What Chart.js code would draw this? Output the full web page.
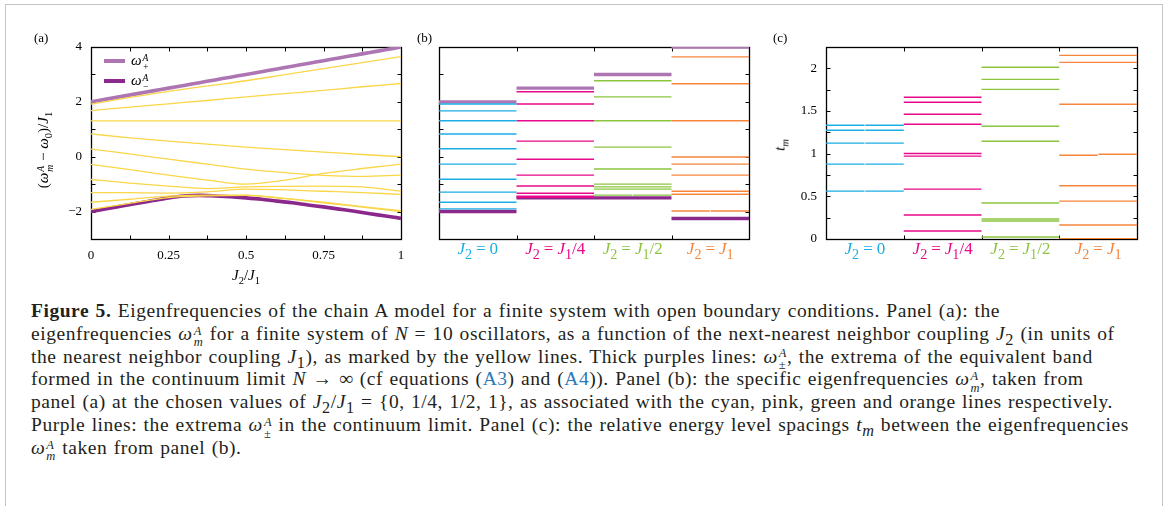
<!DOCTYPE html>
<html>
<head>
<meta charset="utf-8">
<script src="https://cdn.jsdelivr.net/npm/chart.js@4.4.1/dist/chart.umd.min.js"></script>
<style>
  body { margin: 0; background: #fff; width: 1165px; height: 506px; overflow: hidden; position: relative;
         font-family: "Liberation Serif", serif; color: #231f20; }
  .frame { position: absolute; left: 5px; top: 4px; width: 1156px; height: 600px;
           border: 1px solid #c4c4c4; border-bottom: none; }
  canvas { position: absolute; top: 0; }
  .txt { position: absolute; white-space: nowrap; }
  .plabel { font-size: 13px; color: #000; }
  /* stacked superscript / subscript */
  .ss { display: inline-flex; flex-direction: column; vertical-align: 0.42em; font-size: 0.64em;
        line-height: 0.95; margin-left: 1px; font-style: italic; }
  .ss span { display: block; }
  .rot { transform: translate(-50%, -50%) rotate(-90deg); }
  .ctr { transform: translate(-50%, -50%); }
  .swatch { position: absolute; width: 21px; height: 4px; }
  .caption { position: absolute; left: 31px; top: 300px; font-size: 19.5px; letter-spacing: 0.55px; word-spacing: 1px; }
  .caption div { height: 22.8px; line-height: 22.8px; white-space: nowrap; }
  .ref { color: #2a7ab8; }
  .glabel { font-size: 17px; }
  .eq { margin: 0 4px; font-style: normal; }
</style>
</head>
<body>
<div class="frame"></div>

<canvas id="chartA" width="420" height="300" style="left:0px"></canvas>
<canvas id="chartB" width="370" height="300" style="left:400px"></canvas>
<canvas id="chartC" width="390" height="300" style="left:770px"></canvas>

<div class="txt plabel" style="left:34px; top:30px">(a)</div>
<div class="txt plabel" style="left:417px; top:30px">(b)</div>
<div class="txt plabel" style="left:773px; top:30px">(c)</div>

<div class="txt rot" style="left:45px; top:150px; font-size:15px; color:#000">(<i>ω</i><span class="ss"><span>A</span><span>m</span></span> − <i>ω</i><sub style="font-size:0.7em">0</sub>)/<i>J</i><sub style="font-size:0.7em">1</sub></div>
<div class="txt ctr" style="left:246px; top:276px; font-size:15px; color:#000"><i>J</i><sub style="font-size:0.7em">2</sub>/<i>J</i><sub style="font-size:0.7em">1</sub></div>
<div class="txt rot" style="left:781px; top:145px; font-size:15px; color:#000"><i>t</i><sub style="font-size:0.7em"><i>m</i></sub></div>

<!-- legend of panel (a) -->
<div class="swatch" style="left:104px; top:59px; background:#ad76b3"></div>
<div class="swatch" style="left:104px; top:79px; background:#8b288c"></div>
<div class="txt" style="left:131px; top:52px; font-size:15px; color:#000"><i>ω</i><span class="ss"><span>A</span><span>+</span></span></div>
<div class="txt" style="left:131px; top:72px; font-size:15px; color:#000"><i>ω</i><span class="ss"><span>A</span><span>−</span></span></div>

<div id="labelsB"></div>
<div id="labelsC"></div>

<div class="caption">
  <div><b>Figure 5.</b> Eigenfrequencies of the chain A model for a finite system with open boundary conditions. Panel (a): the</div>
  <div>eigenfrequencies <i>ω</i><span class="ss"><span>A</span><span>m</span></span> for a finite system of <i>N</i> = 10 oscillators, as a function of the next-nearest neighbor coupling <i>J</i><sub>2</sub> (in units of</div>
  <div>the nearest neighbor coupling <i>J</i><sub>1</sub>), as marked by the yellow lines. Thick purples lines: <i>ω</i><span class="ss"><span>A</span><span>±</span></span>, the extrema of the equivalent band</div>
  <div>formed in the continuum limit <i>N</i> → ∞ (cf equations (<span class="ref">A3</span>) and (<span class="ref">A4</span>)). Panel (b): the specific eigenfrequencies <i>ω</i><span class="ss"><span>A</span><span>m</span></span>, taken from</div>
  <div>panel (a) at the chosen values of <i>J</i><sub>2</sub>/<i>J</i><sub>1</sub> = {0, 1/4, 1/2, 1}, as associated with the cyan, pink, green and orange lines respectively.</div>
  <div>Purple lines: the extrema <i>ω</i><span class="ss"><span>A</span><span>±</span></span> in the continuum limit. Panel (c): the relative energy level spacings <i>t<sub>m</sub></i> between the eigenfrequencies</div>
  <div><i>ω</i><span class="ss"><span>A</span><span>m</span></span> taken from panel (b).</div>
</div>

<script>
// ---- panel (a): eigenfrequencies vs J2/J1 ----
const j2Grid = [0, 0.125, 0.25, 0.375, 0.5, 0.625, 0.75, 0.875, 1];
const mode1 = [1.92, 2.16, 2.38, 2.58, 2.77, 2.99, 3.21, 3.43, 3.65];
const mode2 = [1.68, 1.81, 1.93, 2.05, 2.18, 2.30, 2.42, 2.55, 2.67];
const mode3 = [1.31, 1.31, 1.31, 1.31, 1.31, 1.31, 1.31, 1.31, 1.31];
const mode4 = [0.83, 0.69, 0.57, 0.46, 0.35, 0.26, 0.17, 0.08, 0.00];
const mode5 = [0.28, 0.10, -0.09, -0.27, -0.45, -0.58, -0.68, -0.72, -0.67];
const mode6 = [-0.28, -0.47, -0.67, -0.85, -1.00, -0.85, -0.61, -0.43, -0.27];
const mode7 = [-0.83, -0.96, -1.07, -1.16, -1.10, -1.08, -1.07, -1.10, -1.26];
const mode8 = [-1.31, -1.31, -1.33, -1.28, -1.18, -1.21, -1.26, -1.31, -1.37];
const mode9 = [-1.66, -1.55, -1.44, -1.40, -1.40, -1.52, -1.66, -1.82, -1.97];
const mode10 = [-1.92, -1.70, -1.49, -1.43, -1.41, -1.53, -1.68, -1.84, -2.00];

// band edges in the continuum limit
const j2Fine = [0, 0.05, 0.1, 0.15, 0.2, 0.25, 0.3, 0.35, 0.4, 0.45, 0.5,
                0.55, 0.6, 0.65, 0.7, 0.75, 0.8, 0.85, 0.9, 0.95, 1];
const omegaPlus = [2.0, 2.1, 2.2, 2.3, 2.4, 2.5, 2.6, 2.7, 2.8, 2.9, 3.0,
                   3.1, 3.2, 3.3, 3.4, 3.5, 3.6, 3.7, 3.8, 3.9, 4.0];
const omegaMinus = [-2.0, -1.9, -1.8, -1.7, -1.6, -1.5, -1.43, -1.41, -1.43, -1.46, -1.5,
                    -1.55, -1.62, -1.68, -1.76, -1.83, -1.91, -1.99, -2.08, -2.16, -2.25];

// ---- panel (b): levels at J2 = 0, J1/4, J1/2, J1 ----
const levelsJ0 = [1.92, 1.67, 1.31, 0.83, 0.29, -0.27, -0.82, -1.29, -1.66, -1.90];
const levelsJ14 = [2.37, 1.92, 1.31, 0.57, -0.09, -0.67, -1.07, -1.33, -1.44, -1.48];
const levelsJ12 = [2.77, 2.18, 1.31, 0.35, -0.45, -1.00, -1.10, -1.18];
const levelsJ1 = [3.64, 2.66, 1.31, -0.01, -0.27, -0.67, -1.26, -1.37];
// near-degenerate pairs drawn as left/right half segments
const pairsJ12 = [[-1.40, -1.40]];
const pairsJ1 = [[-1.98, -1.98]];
const bandTop = [2.0, 2.5, 3.0, 4.0];
const bandBottom = [-2.0, -1.5, -1.5, -2.25];

// ---- panel (c): relative level spacings t_m ----
const spacingJ0 = [];
const spacingJ14 = [1.661, 1.602, 1.462, 1.345, 1.002, 0.971, 0.585, 0.281, 0.094];
const spacingJ12 = [2.012, 1.871, 1.754, 1.322, 1.146, 0.421, 0.234, 0.211, 0.023];
const spacingJ1 = [2.152, 2.070, 1.579, 0.624, 0.444, 0.164, 0.004];
const spacingPairsJ0 = [[1.333, 1.333], [1.275, 1.275], [1.123, 1.123], [0.877, 0.877], [0.561, 0.561]];
const spacingPairsJ1 = [[0.982, 0.994]];

const groupLabels = [
  '<i>J</i><sub>2</sub><span class="eq">=</span>0',
  '<i>J</i><sub>2</sub><span class="eq">=</span><i>J</i><sub>1</sub>/4',
  '<i>J</i><sub>2</sub><span class="eq">=</span><i>J</i><sub>1</sub>/2',
  '<i>J</i><sub>2</sub><span class="eq">=</span><i>J</i><sub>1</sub>'
];

const YELLOW = '#fad648';
const PURPLE_LIGHT = '#ad76b3';
const PURPLE_DARK = '#8b288c';
const groupColors = ['#1badE4', '#e8088a', '#8cc43f', '#f5853a'];

const tickFont = { family: 'Liberation Serif', size: 13 };

// closed box with inward tick marks on all four sides (gnuplot look)
const frameTicks = {
  id: 'frameTicks',
  beforeDatasetsDraw(chart) {
    const { ctx, chartArea: a, scales: { x, y } } = chart;
    const len = 4;
    const L = Math.round(a.left) + 0.5, R = Math.round(a.right) + 0.5;
    const T = Math.round(a.top) + 0.5, B = Math.round(a.bottom) + 0.5;
    ctx.save();
    ctx.strokeStyle = '#000';
    ctx.lineWidth = 1;
    ctx.beginPath();
    x.ticks.forEach(t => {
      const px = Math.round(x.getPixelForValue(t.value)) + 0.5;
      ctx.moveTo(px, B); ctx.lineTo(px, B - len);
      ctx.moveTo(px, T); ctx.lineTo(px, T + len);
    });
    y.ticks.forEach(t => {
      const py = Math.round(y.getPixelForValue(t.value)) + 0.5;
      ctx.moveTo(L, py); ctx.lineTo(L + len, py);
      ctx.moveTo(R, py); ctx.lineTo(R - len, py);
    });
    ctx.stroke();
    ctx.lineWidth = 1.3;
    ctx.strokeRect(L, T, R - L, B - T);
    ctx.restore();
  }
};

const minus = v => String(v).replace('-', '\u2212');

function axis(min, max, step, size, labelFn, isX) {
  return {
    type: 'linear', min: min, max: max,
    afterFit: s => { if (isX) s.height = size; else s.width = size; },
    grid: { display: false, drawTicks: false },
    border: { display: false },
    ticks: {
      stepSize: step, autoSkip: false, maxRotation: 0, padding: 9,
      font: tickFont, color: '#000', callback: labelFn
    }
  };
}

function baseOptions(xAxis, yAxis, padding) {
  return {
    responsive: false,
    animation: false,
    events: [],
    layout: { padding: padding },
    plugins: { legend: { display: false }, tooltip: { enabled: false } },
    elements: { point: { radius: 0 } },
    scales: { x: xAxis, y: yAxis }
  };
}

function curve(xs, ys, color, width, order) {
  return {
    data: xs.map((x, i) => ({ x: x, y: ys[i] })),
    borderColor: color, borderWidth: width, order: order,
    cubicInterpolationMode: 'monotone', fill: false
  };
}

// one horizontal segment per level across its J2 group
function levelSets(group, values, pairs, color, width, order) {
  const sets = values.map(v => ({
    data: [{ x: group, y: v }, { x: group + 1, y: v }],
    borderColor: color, borderWidth: width, order: order
  }));
  pairs.forEach(p => {
    sets.push({ data: [{ x: group, y: p[0] }, { x: group + 0.495, y: p[0] }],
                borderColor: color, borderWidth: width, order: order });
    sets.push({ data: [{ x: group + 0.505, y: p[1] }, { x: group + 1, y: p[1] }],
                borderColor: color, borderWidth: width, order: order });
  });
  return sets;
}

// panel (a)
const modes = [mode1, mode2, mode3, mode4, mode5, mode6, mode7, mode8, mode9, mode10];
const chartA = new Chart(document.getElementById('chartA'), {
  type: 'line',
  data: {
    datasets: [
      ...modes.map(m => curve(j2Grid, m, YELLOW, 1.3, 0)),
      curve(j2Fine, omegaPlus, PURPLE_LIGHT, 3.6, 1),
      curve(j2Fine, omegaMinus, PURPLE_DARK, 3.6, 1)
    ]
  },
  options: baseOptions(
    axis(0, 1, 0.125, 40, v => Number.isInteger(v * 4) ? String(v) : '', true),
    axis(-3, 4, 1, 91, v => v % 2 === 0 ? minus(v) : '', false),
    { left: 0, right: 19, top: 47, bottom: 21 }
  ),
  plugins: [frameTicks]
});

// panel (b)
const levelGroups = [levelsJ0, levelsJ14, levelsJ12, levelsJ1];
const levelPairs = [[], [], pairsJ12, pairsJ1];
const bDatasets = [];
levelGroups.forEach((vals, g) => {
  bDatasets.push(...levelSets(g, vals, levelPairs[g], groupColors[g], 1.4, 0));
  bDatasets.push(...levelSets(g, [bandTop[g]], [], PURPLE_LIGHT, 3.4, 1));
  bDatasets.push(...levelSets(g, [bandBottom[g]], [], PURPLE_DARK, 3.4, 1));
});
const chartB = new Chart(document.getElementById('chartB'), {
  type: 'line',
  data: { datasets: bDatasets },
  options: baseOptions(
    axis(0, 4, 1, 40, () => '', true),
    axis(-3, 4, 1, 39, () => '', false),
    { left: 0, right: 21, top: 47, bottom: 21 }
  ),
  plugins: [frameTicks]
});

// panel (c)
const spacingGroups = [spacingJ0, spacingJ14, spacingJ12, spacingJ1];
const spacingPairs = [spacingPairsJ0, [], [], spacingPairsJ1];
const cDatasets = [];
spacingGroups.forEach((vals, g) => {
  cDatasets.push(...levelSets(g, vals, spacingPairs[g], groupColors[g], 1.4, 0));
});
const chartC = new Chart(document.getElementById('chartC'), {
  type: 'line',
  data: { datasets: cDatasets },
  options: baseOptions(
    axis(0, 4, 1, 40, () => '', true),
    axis(0, 2.25, 0.25, 56, v => Number.isInteger(v * 2) ? String(v) : '', false),
    { left: 0, right: 23, top: 47, bottom: 21 }
  ),
  plugins: [frameTicks]
});

// coloured group captions under panels (b) and (c), placed from the x scale
function placeGroupLabels(chart, offsetX, holderId) {
  const holder = document.getElementById(holderId);
  const xs = chart.scales.x;
  groupLabels.forEach((html, g) => {
    const d = document.createElement('div');
    d.className = 'txt ctr glabel';
    d.style.left = (offsetX + xs.getPixelForValue(g + 0.5)) + 'px';
    d.style.top = (chart.chartArea.bottom + 12) + 'px';
    d.style.color = groupColors[g];
    d.innerHTML = html;
    holder.appendChild(d);
  });
}
placeGroupLabels(chartB, 400, 'labelsB');
placeGroupLabels(chartC, 770, 'labelsC');
</script>
</body>
</html>
